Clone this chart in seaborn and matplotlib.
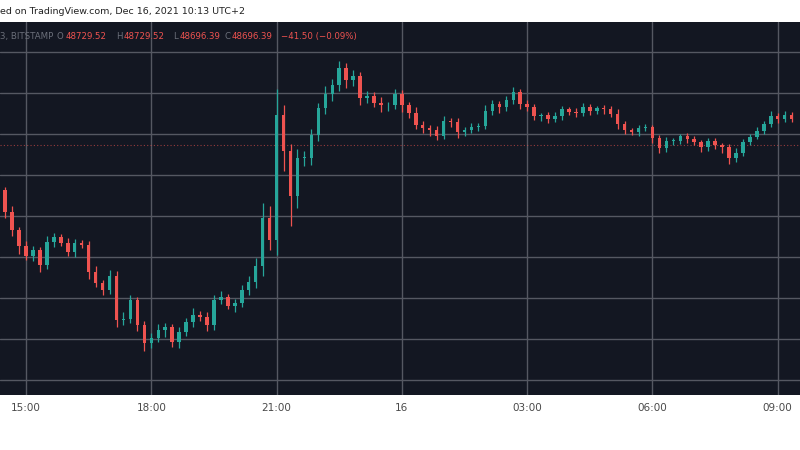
import numpy as np
import pandas as pd
import seaborn as sns
import matplotlib.pyplot as plt

# 10-minute BTC/USD candles, Dec 15 14:20 -> Dec 16 09:30 (UTC+2)
first_open = 47900
closes = [47850, 47640, 47460, 47310, 47210, 47270, 47120, 47350, 47400, 47340,
          47250, 47340, 47320, 47050, 46950, 46880, 47020, 46590, 46600, 46780,
          46540, 46360, 46410, 46490, 46520, 46370, 46470, 46570, 46640, 46620,
          46540, 46780, 46810, 46720, 46750, 46880, 46960, 47110, 47580, 47370,
          48590, 48240, 47800, 48170, 48170, 48390, 48650, 48790, 48880, 49040,
          48930, 48970, 48750, 48770, 48700, 48680, 48680, 48790, 48680, 48610,
          48490, 48460, 48440, 48380, 48530, 48520, 48420, 48440, 48470, 48480,
          48630, 48690, 48660, 48730, 48810, 48690, 48660, 48580, 48590, 48550,
          48580, 48640, 48620, 48610, 48660, 48630, 48650, 48640, 48600, 48500,
          48440, 48420, 48460, 48470, 48360, 48260, 48330, 48330, 48380, 48350,
          48320, 48270, 48330, 48290, 48270, 48170, 48220, 48320, 48370, 48430,
          48500, 48580, 48550, 48590, 48550]
wick_up = [40, 30, 60, 30, 50, 40, 30, 60, 40, 30, 50, 40, 30, 40, 60, 30, 50, 40, 60, 50,
           30, 40, 50, 60, 40, 30, 50, 40, 60, 30, 40, 50, 60, 30, 40, 50, 60, 80, 150, 120,
           250, 90, 60, 80, 70, 60, 50, 80, 60, 70, 50, 60, 40, 50, 40, 60, 30, 50, 40, 30,
           50, 40, 30, 40, 50, 30, 40, 30, 40, 30, 50, 40, 30, 40, 50, 30, 40, 30, 20, 30,
           40, 30, 20, 30, 40, 30, 20, 30, 30, 40, 30, 20, 30, 30, 20, 30, 40, 30, 20, 30,
           30, 20, 30, 30, 20, 30, 40, 30, 30, 40, 30, 50, 30, 40, 30]
wick_dn = [40, 60, 50, 80, 40, 50, 70, 40, 50, 30, 40, 50, 30, 60, 40, 50, 40, 70, 50, 40,
           60, 80, 50, 40, 70, 50, 60, 40, 50, 40, 60, 50, 40, 30, 60, 40, 50, 60, 90, 100,
           150, 200, 300, 120, 80, 70, 60, 50, 70, 60, 80, 60, 70, 50, 40, 60, 50, 40, 60, 50,
           40, 50, 60, 40, 30, 50, 60, 40, 30, 40, 30, 40, 50, 30, 40, 50, 30, 40, 50, 40,
           30, 40, 30, 40, 30, 40, 30, 40, 30, 50, 40, 30, 40, 30, 50, 40, 30, 40, 30, 40,
           30, 40, 30, 40, 50, 60, 40, 30, 30, 20, 30, 30, 40, 30, 30]
tick_pos = [4, 22, 40, 58, 76, 94, 112]
tick_labels = ['15:00', '18:00', '21:00', '16', '03:00', '06:00', '09:00']
price_levels = [46000, 46400, 46800, 47200, 47600, 48000, 48400, 48800, 49200]

df = pd.DataFrame({'close': closes, 'up': wick_up, 'dn': wick_dn})
df['open'] = [first_open] + closes[:-1]
df['high'] = df[['open', 'close']].max(axis=1) + df['up']
df['low'] = df[['open', 'close']].min(axis=1) - df['dn']
df['rise'] = df['close'] >= df['open']

sns.set_style('dark')
UP, DOWN, BG, GRID = '#26a69a', '#ef5350', '#131722', '#555862'

fig = plt.figure(figsize=(8, 4.5), dpi=100)
ax = fig.add_axes([0, 0.122, 1, 0.829])
ax.set_facecolor(BG)
colors = np.where(df['rise'], UP, DOWN)
idx = np.arange(len(df))
ax.vlines(idx, df['low'], df['high'], colors=colors, lw=0.9, zorder=3)
body = (df['close'] - df['open']).abs().clip(lower=8)
ax.bar(idx, body, bottom=df[['open', 'close']].min(axis=1), width=0.5,
       color=colors, linewidth=0, zorder=4)

for p in price_levels:
    ax.axhline(p, color=GRID, lw=1, zorder=1)
for t in tick_pos:
    ax.axvline(t, color=GRID, lw=1, zorder=1)
ax.axhline(48290, color=DOWN, lw=0.8, ls=(0, (1, 2)), alpha=0.6, zorder=2)

ax.set_xlim(0.26, 115.2)
ax.set_ylim(45854, 49493)
ax.set_yticks([])
ax.set_xticks(tick_pos)
ax.set_xticklabels(tick_labels, fontsize=7.5, color='#4a4a4a')
ax.tick_params(axis='x', length=0, pad=6)
for s in ax.spines.values():
    s.set_visible(False)

fig.text(0.0, 0.974, 'ed on TradingView.com, Dec 16, 2021 10:13 UTC+2',
         fontsize=6.8, color='#222222', va='center')
hy = 0.918
fs = 6.2
fig.text(0.0, hy, '3, BITSTAMP', fontsize=fs, color='#6b6f7a', va='center')
for x0, lab, x1, val in [(0.071, 'O', 0.082, '48729.52'), (0.145, 'H', 0.154, '48729.52'),
                         (0.217, 'L', 0.224, '48696.39'), (0.281, 'C', 0.289, '48696.39')]:
    fig.text(x0, hy, lab, fontsize=fs, color='#6b6f7a', va='center')
    fig.text(x1, hy, val, fontsize=fs, color=DOWN, va='center')
fig.text(0.351, hy, '\u221241.50 (\u22120.09%)', fontsize=fs, color=DOWN, va='center')

fig.savefig('out.png', dpi=100, facecolor='white')
